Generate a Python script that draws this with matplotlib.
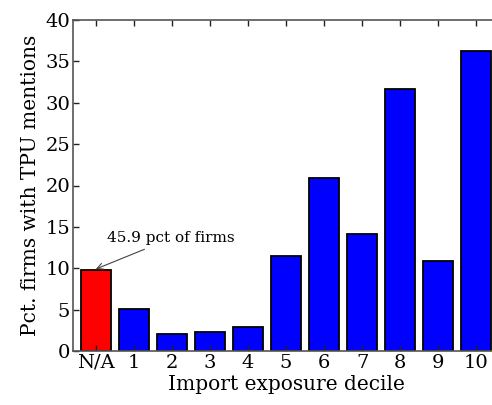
import matplotlib
matplotlib.use("Agg")
import matplotlib.pyplot as plt

deciles = ["N/A", "1", "2", "3", "4", "5", "6", "7", "8", "9", "10"]
pct_tpu = [9.8, 5.1, 2.0, 2.3, 2.9, 11.5, 20.9, 14.1, 31.7, 10.9, 36.3]
bar_colors = ["#ff0000"] + ["#0000ff"] * 10
note = "45.9 pct of firms"

plt.rcParams["font.family"] = ["DejaVu Serif"]

fig = plt.figure(figsize=(4.92, 4.05), dpi=100)
# right edge of the axes runs past the figure border
ax = fig.add_axes([73 / 492, 54 / 405, 426 / 492, 331 / 405])

x = list(range(len(deciles)))
ax.bar(x, pct_tpu, width=0.78, color=bar_colors, edgecolor="black", linewidth=1.3)

ax.set_xlim(-0.6, 10.6)
ax.set_ylim(0, 40)
ax.set_xticks(x)
ax.set_xticklabels(deciles)
ax.set_yticks(range(0, 41, 5))
ax.tick_params(direction="in", top=True, right=False, length=4, width=1,
               labelsize=14, pad=2, color="#222222")

for s in ax.spines.values():
    s.set_color("#555555")
    s.set_linewidth(1.2)

ax.set_xlabel("Import exposure decile", fontsize=14.5, labelpad=2)
ax.set_ylabel("Pct. firms with TPU mentions", fontsize=14.5, labelpad=4)

ax.annotate(note, xy=(0, pct_tpu[0] + 0.1), xytext=(0.3, 13.6),
            fontsize=11, ha="left", va="center",
            arrowprops=dict(arrowstyle="->", color="#444444", lw=0.8,
                            shrinkA=2, shrinkB=0))

fig.savefig("out.png", dpi=100)
